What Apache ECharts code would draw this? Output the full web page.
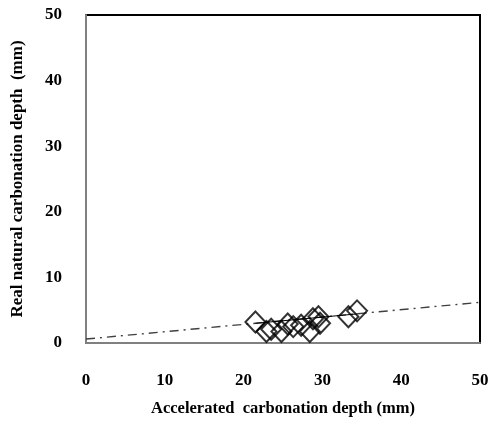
<!DOCTYPE html>
<html><head><meta charset="utf-8">
<script src="https://cdn.jsdelivr.net/npm/echarts@6/dist/echarts.min.js"></script>
<style>html,body{margin:0;padding:0;background:#fff}#c{width:497px;height:422px}</style>
</head><body><div id="c"></div>
<script>
const accelerated = [21.5, 22.9, 23.5, 24.8, 25.6, 26.3, 27.3, 28.4, 28.8, 29.5, 29.7, 33.3, 34.4];
const natural     = [3.2, 1.75, 2.1, 1.75, 2.9, 2.5, 2.7, 1.75, 3.7, 4.0, 3.0, 4.0, 4.9];
const trendX = [0, 50];
const trendY = [0.6, 6.2];
const fitX = [21.5, 34.5];
const fitY = [3.0, 4.45];
const xTicks = [0, 10, 20, 30, 40, 50];
const yTicks = [0, 10, 20, 30, 40, 50];

const font = '"Liberation Serif", "Times New Roman", serif';
const chart = echarts.init(document.getElementById('c'));
chart.setOption({
  animation: false,
  grid: {left: 86, right: 17, top: 15, bottom: 71, show: true, borderColor: '#000', borderWidth: 2},
  xAxis: {
    type: 'value', min: xTicks[0], max: xTicks[xTicks.length-1], interval: 10,
    name: 'Accelerated  carbonation depth (mm)', nameLocation: 'middle', nameGap: 57,
    nameTextStyle: {fontFamily: font, fontWeight: 'bold', fontSize: 16.5, color: '#000'},
    axisLine: {lineStyle: {color: '#808080', width: 2}},
    axisTick: {show: false}, splitLine: {show: false},
    axisLabel: {margin: 29, fontFamily: font, fontWeight: 'bold', fontSize: 17, color: '#000'}
  },
  yAxis: {
    type: 'value', min: yTicks[0], max: yTicks[yTicks.length-1], interval: 10,
    name: 'Real natural carbonation depth  (mm)', nameLocation: 'middle', nameGap: 60,
    nameTextStyle: {fontFamily: font, fontWeight: 'bold', fontSize: 17, color: '#000'},
    axisLine: {lineStyle: {color: '#808080', width: 2}},
    axisTick: {show: false}, splitLine: {show: false},
    axisLabel: {margin: 24, fontFamily: font, fontWeight: 'bold', fontSize: 17, color: '#000'}
  },
  series: [
    {type: 'line', data: trendX.map((x, i) => [x, trendY[i]]), symbol: 'none',
     lineStyle: {color: '#404040', width: 1.4, type: [9, 5, 2, 5]}, z: 1},
    {type: 'line', data: fitX.map((x, i) => [x, fitY[i]]), symbol: 'none',
     lineStyle: {color: '#000', width: 1}, z: 2},
    {type: 'scatter', data: accelerated.map((x, i) => [x, natural[i]]), symbol: 'diamond', symbolSize: [20, 21],
     itemStyle: {color: 'rgba(0,0,0,0)', borderColor: '#000', borderWidth: 2}, z: 3}
  ]
});
</script></body></html>
